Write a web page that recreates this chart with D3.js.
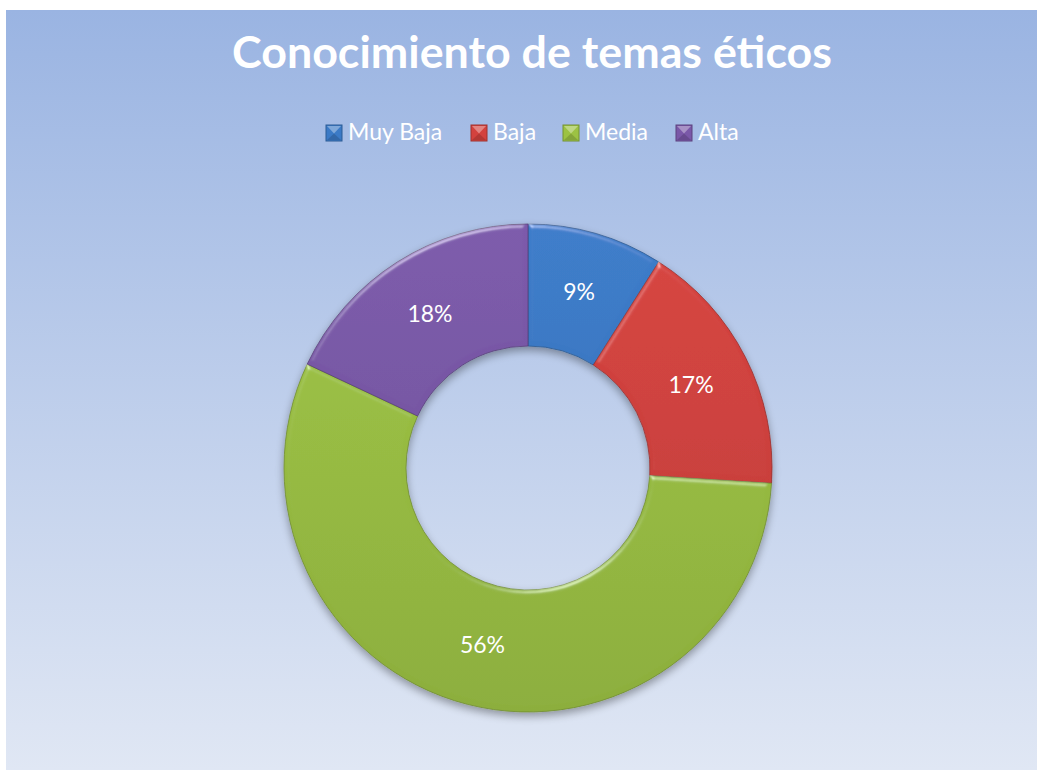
<!DOCTYPE html>
<html>
<head>
    <meta charset="utf-8">
    <script src="https://d3js.org/d3.v7.min.js"></script>
    <style>
        body { margin: 0; background: #fff; }
        text { font-family: 'Lato', 'Open Sans', sans-serif; fill: #fff; }
        .title { font-weight: bold; }
    </style>
</head>
<body>
<script>
    // chart data
    var categories = ["Muy Baja", "Baja", "Media", "Alta"];
    var values = [9, 17, 56, 18];
    var labels = ["9%", "17%", "56%", "18%"];
    var colors = ["#3b7ac6", "#d3423e", "#9cc243", "#7a58a8"];
    var titleText = "Conocimiento de temas éticos";

    var W = 1037, H = 772;
    var svg = d3.select("body").append("svg")
        .attr("width", W)
        .attr("height", H);

    var defs = svg.append("defs");

    // background gradient
    var bg = defs.append("linearGradient").attr("id", "bg")
        .attr("x1", 0).attr("y1", 0).attr("x2", 0).attr("y2", 1);
    bg.append("stop").attr("offset", "0%").attr("stop-color", "#9ab4e2");
    bg.append("stop").attr("offset", "100%").attr("stop-color", "#e0e7f4");

    svg.append("rect")
        .attr("x", 6).attr("y", 10)
        .attr("width", W - 6).attr("height", H - 12)
        .attr("fill", "url(#bg)");

    // bevel filter (edge highlights only)
    var f = defs.append("filter").attr("id", "bevel")
        .attr("x", "-10%").attr("y", "-10%").attr("width", "120%").attr("height", "120%");
    f.append("feGaussianBlur").attr("in", "SourceAlpha").attr("stdDeviation", 2.5).attr("result", "blur");
    var spec = f.append("feSpecularLighting").attr("in", "blur")
        .attr("surfaceScale", 3).attr("specularConstant", 0.9)
        .attr("specularExponent", 30).attr("lighting-color", "#ffffff")
        .attr("result", "spec");
    spec.append("feDistantLight").attr("azimuth", 250).attr("elevation", 30);
    f.append("feComposite").attr("in", "spec").attr("in2", "SourceAlpha")
        .attr("operator", "in").attr("result", "specIn");
    f.append("feComposite").attr("in", "SourceGraphic").attr("in2", "specIn")
        .attr("operator", "arithmetic").attr("k1", 0).attr("k2", 1).attr("k3", 0.4).attr("k4", 0);

    var sh = defs.append("filter").attr("id", "shadow")
        .attr("x", "-10%").attr("y", "-10%").attr("width", "120%").attr("height", "125%");
    sh.append("feGaussianBlur").attr("in", "SourceAlpha").attr("stdDeviation", 4).attr("result", "b");
    sh.append("feOffset").attr("in", "b").attr("dy", 4).attr("result", "o");
    sh.append("feComponentTransfer").attr("in", "o").attr("result", "s")
        .append("feFuncA").attr("type", "linear").attr("slope", 0.35);
    var mg = sh.append("feMerge");
    mg.append("feMergeNode").attr("in", "s");
    mg.append("feMergeNode").attr("in", "SourceGraphic");

    // per-slice vertical shading
    var cx = 528, cy = 468, outerR = 244, innerR = 122;
    colors.forEach(function(c, i) {
        var g = defs.append("linearGradient").attr("id", "sl" + i)
            .attr("gradientUnits", "userSpaceOnUse")
            .attr("x1", 0).attr("y1", -outerR).attr("x2", 0).attr("y2", outerR);
        g.append("stop").attr("offset", "0%").attr("stop-color", d3.color(c).brighter(0.05));
        g.append("stop").attr("offset", "100%").attr("stop-color", d3.color(c).darker(0.3));
    });

    // title
    var title = svg.append("text")
        .attr("class", "title")
        .attr("x", 532).attr("y", 68)
        .attr("text-anchor", "middle")
        .style("font-size", "36px")
        .text(titleText);
    var tw = title.node().getComputedTextLength();
    title.style("font-size", (36 * 600 / tw) + "px");

    // legend
    var legendX = [326, 471, 563, 676];
    var legend = svg.selectAll(".legend")
        .data(categories)
        .enter().append("g")
        .attr("class", "legend")
        .attr("transform", function(d, i) { return "translate(" + legendX[i] + ",125)"; });

    legend.append("rect")
        .attr("width", 16).attr("height", 16)
        .attr("fill", function(d, i) { return colors[i]; })
        .attr("stroke", function(d, i) { return d3.color(colors[i]).darker(0.8); })
        .attr("stroke-width", 1);
    legend.append("path")
        .attr("d", "M1,1 L15,1 L8,8.5 Z")
        .attr("fill", "#fff").attr("opacity", 0.35);
    legend.append("path")
        .attr("d", "M1,15 L15,15 L8,8.5 Z")
        .attr("fill", "#000").attr("opacity", 0.15);

    legend.append("text")
        .attr("x", 22).attr("y", 15)
        .style("font-size", "23px")
        .text(function(d) { return d; });

    // donut
    var pie = d3.pie().sort(null).value(function(d) { return d; });
    var arc = d3.arc().innerRadius(innerR).outerRadius(outerR);
    var arcs = pie(values);

    var donut = svg.append("g")
        .attr("transform", "translate(" + cx + "," + cy + ")")
        .attr("filter", "url(#shadow)");

    donut.selectAll(".slice")
        .data(arcs)
        .enter().append("path")
        .attr("class", "slice")
        .attr("d", arc)
        .attr("fill", function(d, i) { return "url(#sl" + i + ")"; })
        .attr("stroke", function(d, i) { return d3.color(colors[i]).darker(0.9); })
        .attr("stroke-width", 0.8)
        .attr("filter", "url(#bevel)");

    svg.append("g")
        .attr("transform", "translate(" + cx + "," + cy + ")")
        .selectAll(".lbl")
        .data(arcs)
        .enter().append("text")
        .attr("class", "lbl")
        .attr("transform", function(d) { return "translate(" + arc.centroid(d) + ")"; })
        .attr("text-anchor", "middle")
        .attr("dy", "0.35em")
        .style("font-size", "23px")
        .text(function(d, i) { return labels[i]; });
</script>
</body>
</html>
